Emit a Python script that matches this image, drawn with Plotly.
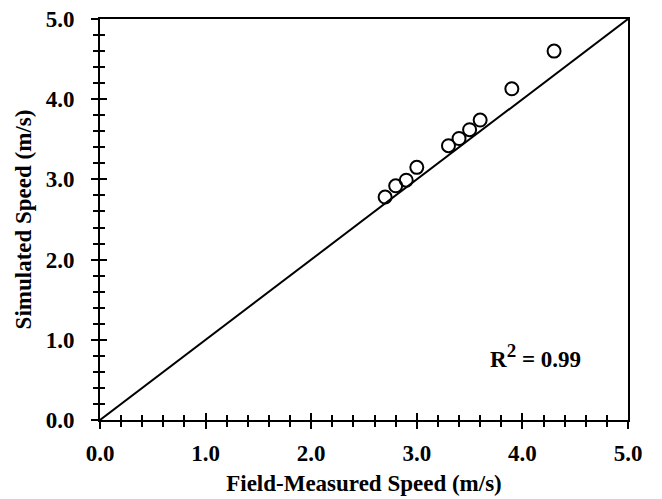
import plotly.graph_objects as go

measured = [2.7, 2.8, 2.9, 3.0, 3.3, 3.4, 3.5, 3.6, 3.9, 4.3]
simulated = [2.78, 2.92, 2.99, 3.15, 3.42, 3.51, 3.62, 3.74, 4.13, 4.60]
line_x = [0.0, 5.0]
line_y = [0.0, 5.0]
tick_vals = [0, 1, 2, 3, 4, 5]
tick_text = ["0.0", "1.0", "2.0", "3.0", "4.0", "5.0"]

FONT = "Liberation Serif"
fig = go.Figure()
fig.add_trace(go.Scatter(x=line_x, y=line_y, mode="lines",
                         line=dict(color="black", width=2), showlegend=False, hoverinfo="skip"))
fig.add_trace(go.Scatter(x=measured, y=simulated, mode="markers",
                         marker=dict(symbol="circle-open", size=13, color="black",
                                     line=dict(color="black", width=2)),
                         showlegend=False))
# trace on overlay axes (for inside ticks)
fig.add_trace(go.Scatter(x=line_x, y=line_y, xaxis="x2", yaxis="y2", mode="markers",
                         marker=dict(opacity=0), showlegend=False, hoverinfo="skip"))

tickfont = dict(family=FONT, size=23, color="black", weight="bold")
axis_common = dict(range=[0, 5], tickvals=tick_vals, ticktext=tick_text, showgrid=False,
                   zeroline=False, linecolor="black", linewidth=2, mirror=True, showline=True,
                   ticks="outside", ticklen=7, tickwidth=2, tickcolor="black", automargin=False,
                   minor=dict(dtick=0.2, ticks="outside", ticklen=5, tickwidth=2, tickcolor="black", showgrid=False),
                   tickfont=tickfont)
overlay_common = dict(range=[0, 5], tickvals=tick_vals, showticklabels=False, showgrid=False,
                      zeroline=False, showline=False, automargin=False,
                      ticks="inside", ticklen=7, tickwidth=2, tickcolor="black",
                      minor=dict(dtick=0.2, ticks="inside", ticklen=5, tickwidth=2, tickcolor="black", showgrid=False))

fig.update_layout(
    width=662, height=499,
    margin=dict(l=100, r=34, t=19, b=79),
    paper_bgcolor="white", plot_bgcolor="white",
    xaxis=dict(**axis_common, ticklabelstandoff=4,
               title=dict(text="Field-Measured Speed (m/s)",
                          font=dict(family=FONT, size=23, color="black", weight="bold"), standoff=10)),
    yaxis=dict(**axis_common, ticklabelstandoff=12,
               title=dict(text="Simulated Speed (m/s)",
                          font=dict(family=FONT, size=23, color="black", weight="bold"), standoff=8)),
    xaxis2=dict(**overlay_common, overlaying="x", anchor="y2", side="bottom"),
    yaxis2=dict(**overlay_common, overlaying="y", anchor="x2", side="left"),
    annotations=[dict(x=4.12, y=0.8, xref="x", yref="y",
                      text="R<sup><span style='font-size:19px'>2</span></sup> = 0.99",
                      showarrow=False, font=dict(family=FONT, size=23, color="black", weight="bold"))],
)
fig.write_html("out.html")
